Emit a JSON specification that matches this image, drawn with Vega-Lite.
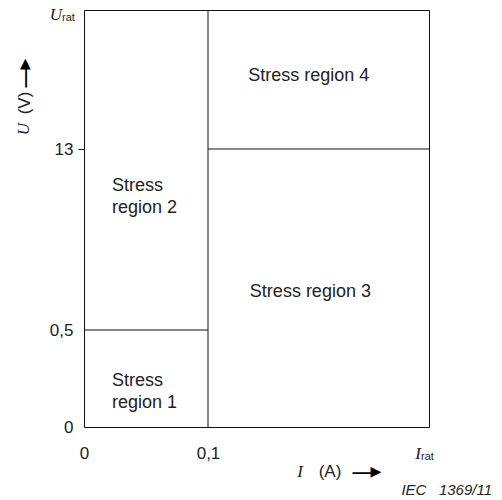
{
  "$schema": "https://vega.github.io/schema/vega-lite/v6.json",
  "autosize": "none",
  "width": 345,
  "height": 417,
  "padding": {"left": 84, "top": 10, "right": 73, "bottom": 73},
  "background": "white",
  "config": {
    "view": {"stroke": "#111", "strokeWidth": 1},
    "font": "Liberation Sans",
    "text": {"font": "Liberation Sans", "fontSize": 17, "color": "#222"}
  },
  "encoding": {
    "x": {"field": "x", "type": "quantitative",
      "scale": {"type": "linear", "domain": [0, 0.1, 1], "range": [0, 124, 345], "nice": false, "zero": false},
      "axis": {"title": null, "values": [0, 0.1, 1], "domain": false, "ticks": false, "grid": false,
        "labelExpr": "datum.value == 0.1 ? '0,1' : (datum.value == 0 ? '0' : '')",
        "labelFlush": false, "labelFont": "Liberation Sans", "labelFontSize": 17, "labelColor": "#222",
        "labelPadding": 18, "labelOverlap": false}},
    "y": {"field": "y", "type": "quantitative",
      "scale": {"type": "linear", "domain": [0, 0.5, 13, 20], "range": [417, 320, 139, 0], "nice": false, "zero": false},
      "axis": {"title": null, "values": [0, 0.5, 13, 20], "domain": false, "grid": false,
        "tickSize": 6, "tickColor": "#111",
        "tickOpacity": {"condition": {"test": "datum.value == 13", "value": 1}, "value": 0},
        "labelExpr": "datum.value == 0.5 ? '0,5' : (datum.value == 20 ? '' : datum.label)",
        "labelFlush": false, "labelFont": "Liberation Sans", "labelFontSize": 17, "labelColor": "#222",
        "labelPadding": 5, "labelOverlap": false}}
  },
  "layer": [
    {
      "data": {"values": [
        {"x": 0.1, "x2": 0.1, "y": 0, "y2": 20},
        {"x": 0.1, "x2": 1, "y": 13, "y2": 13},
        {"x": 0, "x2": 0.1, "y": 0.5, "y2": 0.5}
      ]},
      "mark": {"type": "rule", "color": "#111", "strokeWidth": 1},
      "encoding": {"x2": {"field": "x2"}, "y2": {"field": "y2"}}
    },
    {
      "data": {"values": [
        {"label": ["Stress", "region 1"], "x": 0.0225, "y": 0.237},
        {"label": ["Stress", "region 2"], "x": 0.0225, "y": 10.44}
      ]},
      "mark": {"type": "text", "align": "left", "baseline": "middle", "fontSize": 18, "lineHeight": 22},
      "encoding": {"text": {"field": "label"}}
    },
    {
      "data": {"values": [
        {"label": "Stress region 3", "x": 0.517, "y": 3.12},
        {"label": "Stress region 4", "x": 0.51, "y": 16.68}
      ]},
      "mark": {"type": "text", "align": "center", "baseline": "middle", "fontSize": 18},
      "encoding": {"text": {"field": "label"}}
    },
    {
      "data": {"values": [{"t": "U", "x": 0, "y": 20}]},
      "mark": {"type": "text", "font": "Liberation Serif", "fontStyle": "italic", "fontSize": 17, "align": "right", "baseline": "alphabetic", "dx": -22, "dy": 10},
      "encoding": {"text": {"field": "t"}}
    },
    {
      "data": {"values": [{"t": "rat", "x": 0, "y": 20}]},
      "mark": {"type": "text", "fontSize": 11, "align": "left", "baseline": "alphabetic", "dx": -22, "dy": 11},
      "encoding": {"text": {"field": "t"}}
    },
    {
      "data": {"values": [{"t": "I", "x": 1, "y": 0}]},
      "mark": {"type": "text", "font": "Liberation Serif", "fontStyle": "italic", "fontSize": 17, "align": "right", "baseline": "alphabetic", "dx": -8, "dy": 32},
      "encoding": {"text": {"field": "t"}}
    },
    {
      "data": {"values": [{"t": "rat", "x": 1, "y": 0}]},
      "mark": {"type": "text", "fontSize": 11, "align": "left", "baseline": "alphabetic", "dx": -8, "dy": 33},
      "encoding": {"text": {"field": "t"}}
    },
    {
      "data": {"values": [{"t": "I", "x": 1, "y": 0}]},
      "mark": {"type": "text", "font": "Liberation Serif", "fontStyle": "italic", "fontSize": 17, "align": "center", "baseline": "alphabetic", "dx": -129, "dy": 50},
      "encoding": {"text": {"field": "t"}}
    },
    {
      "data": {"values": [{"t": "(A)", "x": 1, "y": 0}]},
      "mark": {"type": "text", "fontSize": 17, "align": "center", "baseline": "alphabetic", "dx": -99, "dy": 50},
      "encoding": {"text": {"field": "t"}}
    },
    {
      "data": {"values": [{"t": "—", "x": 1, "y": 0}]},
      "mark": {"type": "text", "fontSize": 19, "fontWeight": "bold", "color": "#000", "align": "center", "baseline": "middle", "dx": -67, "dy": 45},
      "encoding": {"text": {"field": "t"}}
    },
    {
      "data": {"values": [{"t": "▶", "x": 1, "y": 0}]},
      "mark": {"type": "text", "font": "DejaVu Sans", "fontSize": 14, "color": "#000", "align": "center", "baseline": "middle", "dx": -53, "dy": 45},
      "encoding": {"text": {"field": "t"}}
    },
    {
      "data": {"values": [{"t": "U", "x": 0, "y": 13}]},
      "mark": {"type": "text", "font": "Liberation Serif", "fontStyle": "italic", "fontSize": 17, "angle": -90, "align": "center", "baseline": "alphabetic", "dx": 20, "dy": -55},
      "encoding": {"text": {"field": "t"}}
    },
    {
      "data": {"values": [{"t": "(V)", "x": 0, "y": 13}]},
      "mark": {"type": "text", "fontSize": 17, "angle": -90, "align": "center", "baseline": "alphabetic", "dx": 46, "dy": -54},
      "encoding": {"text": {"field": "t"}}
    },
    {
      "data": {"values": [{"t": "—", "x": 0, "y": 13}]},
      "mark": {"type": "text", "fontSize": 19, "fontWeight": "bold", "color": "#000", "angle": -90, "align": "center", "baseline": "middle", "dx": 71, "dy": -59},
      "encoding": {"text": {"field": "t"}}
    },
    {
      "data": {"values": [{"t": "▶", "x": 0, "y": 13}]},
      "mark": {"type": "text", "font": "DejaVu Sans", "fontSize": 14, "color": "#000", "angle": -90, "align": "center", "baseline": "middle", "dx": 85, "dy": -59},
      "encoding": {"text": {"field": "t"}}
    },
    {
      "data": {"values": [{"t": "IEC\u00a0\u00a0\u00a01369/11", "x": 1, "y": 0}]},
      "mark": {"type": "text", "fontSize": 15, "fontStyle": "italic", "align": "right", "baseline": "alphabetic", "dx": 63, "dy": 68},
      "encoding": {"text": {"field": "t"}}
    }
  ]
}
